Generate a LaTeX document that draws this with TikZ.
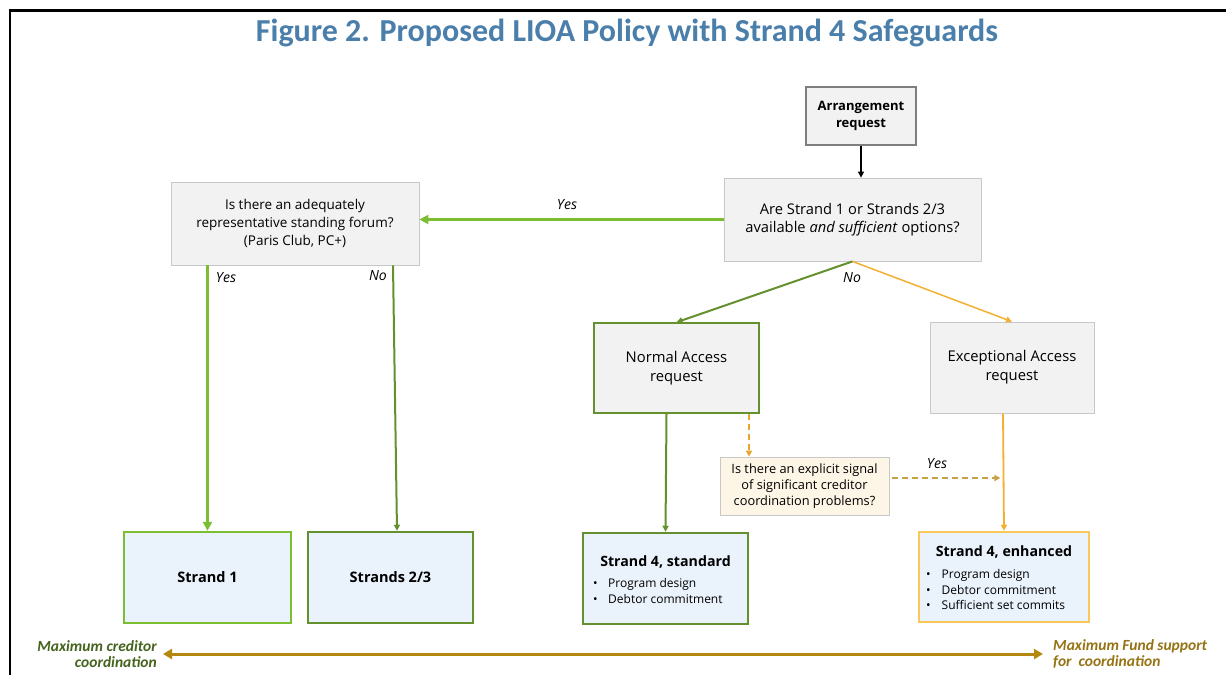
\documentclass[tikz,border=0pt]{standalone}
\usepackage{fontspec}
\setmainfont{Open Sans}
\newfontfamily\carlito{Carlito}
\usetikzlibrary{arrows.meta}
\definecolor{titleblue}{RGB}{74,126,171}
\definecolor{boxgray}{RGB}{242,242,242}
\definecolor{edgegray}{RGB}{200,200,200}
\definecolor{darkedge}{RGB}{127,127,127}
\definecolor{lgreen}{RGB}{124,190,50}
\definecolor{dgreen}{RGB}{100,145,45}
\definecolor{orangeA}{RGB}{244,176,50}
\definecolor{dashor}{RGB}{232,165,45}
\definecolor{dashbrown}{RGB}{200,160,70}
\definecolor{lblue}{RGB}{234,242,252}
\definecolor{cream}{RGB}{253,245,230}
\definecolor{yelloedge}{RGB}{250,200,90}
\definecolor{gold}{RGB}{180,135,15}
\definecolor{labgreen}{RGB}{70,100,30}
\definecolor{labgold}{RGB}{150,115,20}
\tikzset{
  box/.style={draw, inner sep=0pt, align=center, font=\fontsize{12}{18}\selectfont},
  graybox/.style={box, fill=boxgray, draw=edgegray, line width=0.8pt},
  endbox/.style={box, fill=lblue, line width=2.5pt, font=\fontsize{14.5}{18}\selectfont\bfseries},
  lab/.style={font=\fontsize{14}{16}\selectfont\itshape, inner sep=0pt},
  tipbig/.style={-{Triangle[length=9pt,width=9pt]}},
  tipsm/.style={-{Triangle[length=6pt,width=6pt]}},
  dashline/.style={line width=1.5pt, dash pattern=on 6pt off 4pt},
}
\begin{document}
\begin{tikzpicture}[x=1pt,y=-1pt]
\useasboundingbox (0,0) rectangle (1226,675);
\fill[white] (0,0) rectangle (1226,675);
\draw[line width=2.5pt] (10,675) -- (10,10.5) -- (1226,10.5);

\node[font=\carlito\fontsize{32}{34}\selectfont\bfseries, text=titleblue] (title) at (627,33) {Figure 2. Proposed LIOA Policy with Strand 4 Safeguards};

% boxes
\node[graybox, draw=darkedge, line width=1.2pt, minimum width=110pt, minimum height=58pt, font=\fontsize{13}{17.7}\selectfont\bfseries] (arr) at (861,116) {Arrangement\\request};
\node[graybox, minimum width=257pt, minimum height=83pt, font=\fontsize{14.7}{18.5}\selectfont] (q1) at (852.5,219.5) {Are Strand 1 or Strands 2/3\\available \textit{and sufficient} options?};
\node[graybox, minimum width=248pt, minimum height=83pt, font=\fontsize{13.5}{17.7}\selectfont] (forum) at (295,223.5) {Is there an adequately\\representative standing forum?\\(Paris Club, PC+)};
\node[graybox, draw=dgreen, line width=1.5pt, minimum width=165pt, minimum height=90pt, font=\fontsize{14.8}{19}\selectfont] (norm) at (676.5,368) {Normal Access\\request};
\node[graybox, minimum width=164pt, minimum height=91pt, font=\fontsize{14.8}{19}\selectfont] (exc) at (1012,367.5) {Exceptional Access\\request};
\node[graybox, fill=cream, draw=edgegray, minimum width=169pt, minimum height=58pt, font=\fontsize{12.8}{16.3}\selectfont] (sig) at (804.5,486) {Is there an explicit signal\\of significant creditor\\coordination problems?};

\node[endbox, draw=lgreen, minimum width=167pt, minimum height=91pt] (s1) at (207.5,577.5) {Strand 1};
\node[endbox, draw=dgreen, minimum width=165pt, minimum height=91pt] (s23) at (390.5,577.5) {Strands 2/3};
\node[endbox, draw=dgreen, minimum width=165pt, minimum height=91pt] (s4s) at (665.5,578.5) {};
\node[endbox, draw=yelloedge, minimum width=170pt, minimum height=90pt] (s4e) at (1004,577) {};

\node[font=\fontsize{14.2}{18}\selectfont\bfseries, inner sep=0pt] (s4st) at (665.5,562) {Strand 4, standard};
\node[anchor=west, inner sep=0pt, font=\fontsize{12}{16.5}\selectfont] (s4sb) at (593,592)
  {\begin{tabular}{@{}l@{\hspace{10.5pt}}l@{}}\textbullet & Program design\\ \textbullet & Debtor commitment\end{tabular}};
\node[font=\fontsize{14.2}{18}\selectfont\bfseries, inner sep=0pt] (s4et) at (1004,552.5) {Strand 4, enhanced};
\node[anchor=west, inner sep=0pt, font=\fontsize{12}{15.5}\selectfont] (s4eb) at (926,591)
  {\begin{tabular}{@{}l@{\hspace{11pt}}l@{}}\textbullet & Program design\\ \textbullet & Debtor commitment\\ \textbullet & Sufficient set commits\end{tabular}};

% connectors
\draw[line width=1.2pt, tipsm] (arr.south) -- (arr.south |- q1.north);
\draw[lgreen, line width=3pt, tipbig] (q1.west) -- (q1.west -| forum.east);
\node[lab] (yes1) at (567,205) {Yes};
\draw[lgreen, line width=3.5pt, tipbig] (s1.north |- forum.south) -- (s1.north);
\node[lab] (yes2) at (226,278) {Yes};
\draw[dgreen, line width=2pt, tipsm] ([xshift=98pt]forum.south) -- ([xshift=6.5pt]s23.north);
\node[lab] (no1) at (378,276) {No};
\draw[dgreen, line width=2pt, tipsm] (q1.south) -- (norm.north);
\draw[orangeA, line width=1.5pt, tipsm] (q1.south) -- (exc.north);
\node[lab] (no2) at (852,278) {No};
\draw[dgreen, line width=2pt, tipsm] ([xshift=-10pt]norm.south) -- (s4s.north);
\draw[dashor, dashline, tipsm] ([xshift=72.5pt]norm.south) -- ([xshift=72.5pt]norm.south |- sig.north);
\draw[dashbrown, dashline, tipsm] ([xshift=3pt,yshift=8pt]sig.east) -- ++(108,0) coordinate (sigend);
\node[lab] (yes3) at (937,464) {Yes};
\draw[orangeA, line width=1.8pt, tipsm] ([xshift=-9pt]exc.south) -- (s4e.north);

% bottom scale
\coordinate (bl) at (163,654);
\coordinate (br) at (1043,654);
\draw[gold, line width=3pt, {Triangle[length=9pt,width=10pt]}-{Triangle[length=9pt,width=10pt]}] (bl) -- (br);
\node[anchor=east, align=right, text=labgreen, font=\carlito\fontsize{15.5}{16.5}\selectfont\bfseries\itshape, inner sep=0pt] (lml) at (157,654) {Maximum creditor\\coordination};
\node[anchor=west, align=left, text=labgold, font=\carlito\fontsize{15.5}{16.5}\selectfont\bfseries\itshape, inner sep=0pt] (lmr) at (1053,654) {Maximum Fund support\\for\ \ coordination};
\end{tikzpicture}
\end{document}
